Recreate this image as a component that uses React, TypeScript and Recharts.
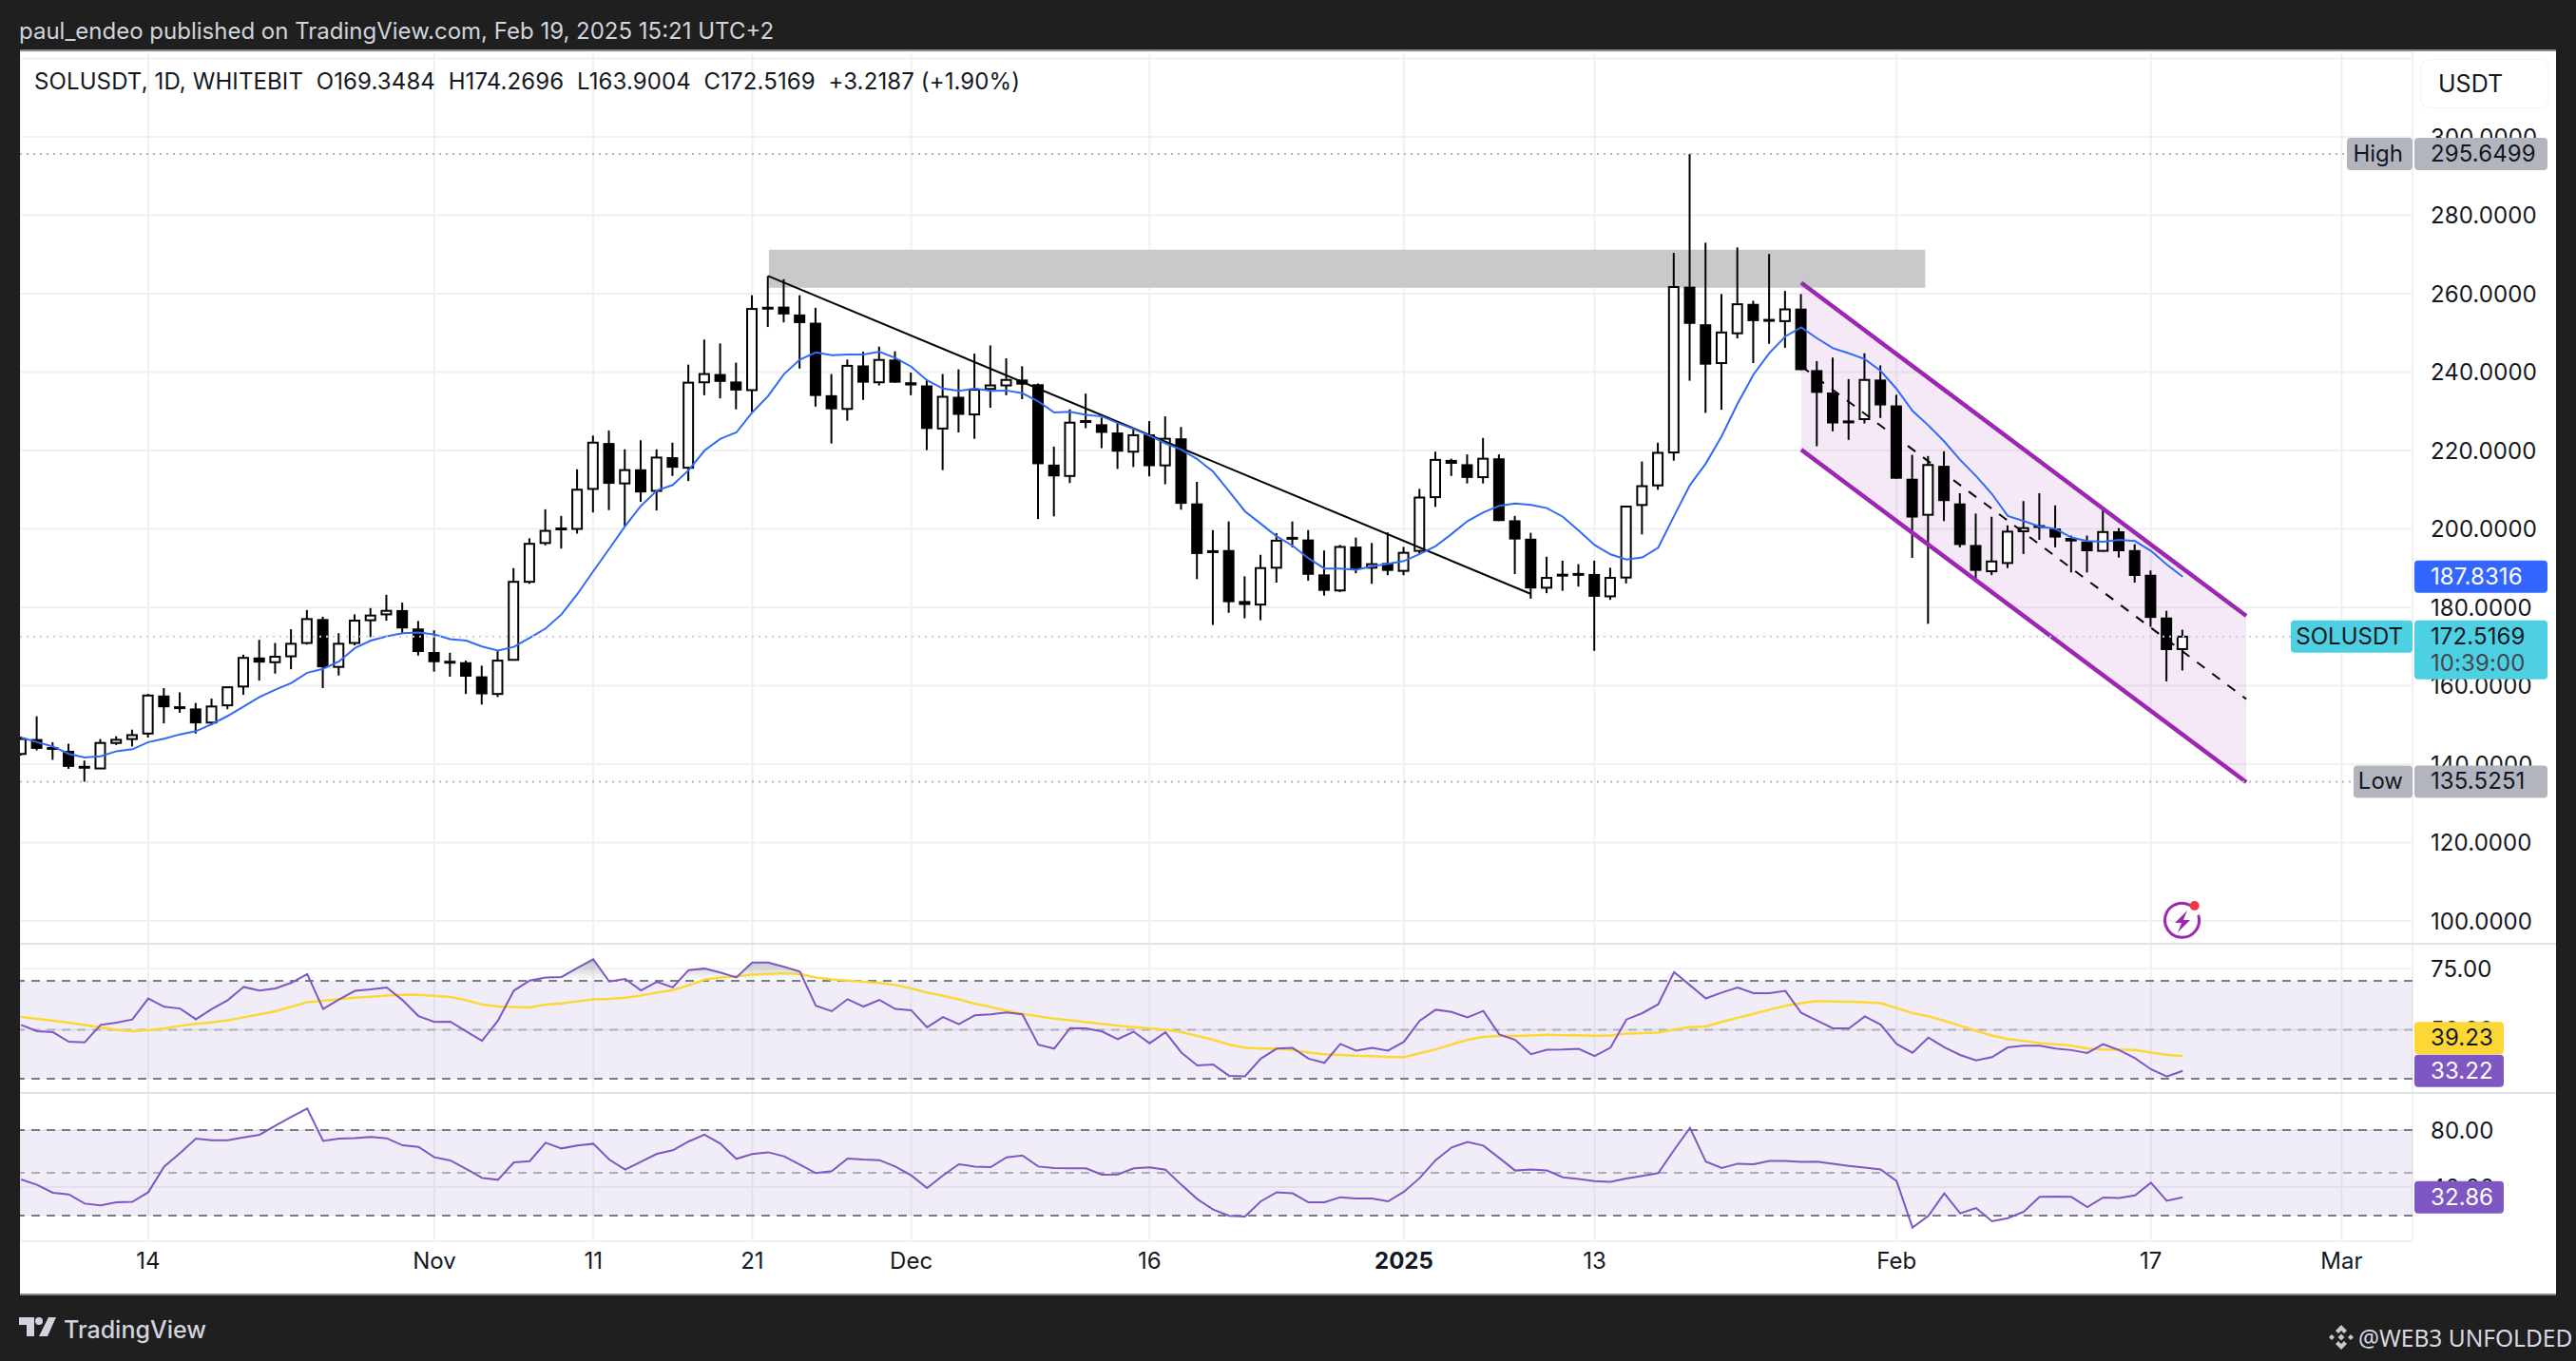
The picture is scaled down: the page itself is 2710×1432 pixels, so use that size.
import {
  Area,
  Bar,
  CartesianGrid,
  ComposedChart,
  Line,
  ReferenceArea,
  ReferenceLine,
  XAxis,
  YAxis,
} from "recharts";

const FONT = "Inter, sans-serif";
const firstDay = -8; // 6 Oct, day 0 is 14 Oct

const opens = [
  142.6, 146.4, 144.1, 143.4, 139.3, 138.9, 145.4, 146.4, 147.8, 157.5,
  154.7, 154.2, 150.6, 155, 159.8, 167.2, 166, 167.5, 170.9, 177,
  164.8, 170.9, 176.7, 178.2, 179.3, 174.6, 168.6, 166.1, 166, 162.4,
  157.9, 166.6, 186.5, 196.4, 199.9, 200, 210.2, 221.9, 211.6, 215.2,
  209.7, 218.3, 215.6, 237.4, 239.5, 237.6, 235.4, 256.4, 256.7, 254.7,
  252.6, 234.1, 230.6, 241.7, 237.4, 243.2, 237.4, 236.6, 225.6, 233.7,
  229.2, 235.7, 236.6, 238.1, 236.9, 216.4, 213.5, 227.5, 226.7, 224.6,
  219.7, 224.1, 216.2, 223.1, 206.5, 194.3, 194.6, 181.6, 180.7, 190.1,
  197.7, 197.3, 188.4, 184.3, 195.5, 190.1, 191.3, 189.3, 194.4, 208.1,
  217.6, 216.5, 213.2, 218, 202.2, 197.5, 185, 188.3, 188.5, 188.5,
  182.8, 187.6, 206.1, 211.1, 219.5, 261.8, 252.2, 242.3, 249.9, 257.4,
  253.3, 253, 256.2, 240.5, 234.8, 227.4, 228, 238.1, 231.5, 212.8,
  203.6, 216.1, 206.5, 195.9, 189.2, 191.3, 199.4, 200.8, 200.1, 197.7,
  196.8, 194.4, 199.4, 194.6, 188.3, 177.4, 169.3484,
];
const highs = [
  147, 152.2, 145.6, 145.2, 140.9, 146.4, 147.1, 148.8, 157.9, 159.4,
  158.3, 155.6, 156.7, 159.6, 167.9, 171.7, 170.9, 174.4, 179.3, 177.6,
  173.4, 178.2, 179.8, 183.2, 181.2, 176.5, 174.1, 168.4, 166.4, 165.1,
  169.1, 190, 197.6, 205, 203.3, 215.2, 223.8, 225.1, 220.3, 222.6,
  220.3, 222, 241.9, 248.3, 247.3, 242.4, 259.6, 264.5, 263.7, 259.6,
  256.4, 239.5, 243.2, 245.2, 246.5, 245.3, 239.9, 238.1, 239.5, 240.7,
  244.7, 246.8, 243.5, 241.5, 237.1, 221, 230.5, 234.5, 228.4, 227,
  225.5, 227.5, 228.7, 226, 212, 199.7, 201.9, 187.9, 193.4, 198.9,
  201.9, 199.7, 194.5, 195.9, 197.8, 196.4, 199.1, 195.4, 210.2, 219.7,
  217.9, 219, 223.2, 219, 203.3, 199, 192.9, 191.9, 191, 191.9,
  190.1, 205.9, 217.2, 222, 270.4, 295.65, 273, 259.9, 271.8, 258.2,
  270.1, 260.7, 259.9, 242.8, 243.7, 238.2, 244.8, 241.7, 234.2, 218.9,
  218.6, 219.8, 209.1, 203.9, 203.1, 200.9, 207.1, 209.1, 206, 198.3,
  198.3, 205.3, 200.2, 196.1, 189.4, 179.1, 174.27,
];
const lows = [
  142.2, 143.5, 141.1, 138.8, 135.53, 138.9, 144.9, 144.5, 146.8, 150.4,
  153.1, 147.8, 149.9, 154, 157.7, 161.3, 163.1, 164.2, 170.5, 159.4,
  162.6, 170.3, 172.4, 176.6, 173.2, 167.7, 163.6, 162.3, 157.9, 155.2,
  157.1, 166.6, 186, 195.8, 195, 198.8, 204.2, 204.8, 200.7, 206.9,
  204.7, 213.5, 212.2, 234.1, 233.3, 230.5, 229.8, 251.5, 252.7, 240.9,
  231.2, 221.8, 227.6, 232.9, 236.6, 237.3, 234.1, 220.1, 215, 224.6,
  223, 230.9, 234.1, 233.1, 202.5, 203.2, 211.7, 225.7, 220.6, 215.3,
  215.8, 213.4, 211.4, 204.9, 187.2, 175.5, 178.6, 177.2, 176.7, 186.3,
  195.3, 186.8, 183, 183.9, 188.7, 186, 188.2, 188.2, 193.6, 205.6,
  213.5, 211.6, 211.6, 202, 188.5, 182.2, 183.6, 184.2, 185.3, 168.9,
  181.9, 186.1, 198.6, 210, 217.4, 237.8, 229.6, 230.4, 248.6, 242.3,
  247.2, 246.2, 240.5, 221.1, 224.9, 222.7, 226.9, 228.3, 212.8, 192.6,
  175.8, 202, 195.3, 187.4, 188.2, 190, 193.6, 197.2, 195.3, 188.9,
  188.9, 194.2, 192.7, 186.3, 175, 161.1, 163.9,
];
const closes = [
  146.4, 143.9, 143.9, 139.3, 139.1, 145.4, 146.2, 147.4, 157.5, 154.5,
  154.1, 150.4, 154.7, 159.6, 167.1, 165.9, 167.4, 170.7, 177, 164.7,
  170.7, 176.6, 177.9, 179.1, 174.6, 168.6, 166, 165.9, 162.3, 157.8,
  166.4, 186.5, 196.2, 199.5, 200.1, 210, 222, 211.5, 215, 209.3,
  218.2, 215.6, 237.3, 239.5, 237.5, 235.3, 256.1, 256.2, 254.7, 252.5,
  233.9, 230.5, 241.6, 237.3, 243.1, 237.3, 236.6, 225.5, 233.7, 229.1,
  235.5, 236.6, 238, 236.8, 216.5, 213.4, 227.1, 227.3, 224.5, 219.7,
  223.9, 216, 223, 206.4, 193.6, 194.1, 181.3, 180.6, 190, 197,
  197.5, 188.3, 184.2, 195.4, 189.7, 191, 189.3, 193.9, 208, 217.6,
  216.6, 213, 217.9, 202, 197.3, 184.8, 187.5, 188.1, 188.3, 182.7,
  187.5, 205.7, 210.9, 219.4, 261.7, 252.3, 241.9, 250.1, 257.3, 253,
  253.1, 256, 240.5, 234.7, 226.9, 227.2, 238, 231.5, 212.8, 202.9,
  216.3, 207.1, 195.9, 189.3, 191.7, 199.3, 200.2, 200.4, 197.8, 196.8,
  194.3, 199.2, 194.3, 188, 177.3, 169.1, 172.5169,
];
const maValues = [
  146.8, 145.6, 144.5, 142.6, 141.7, 142, 143.3, 143.8, 145.6, 146.5,
  147.6, 148.4, 150.2, 152.3, 154.7, 157.1, 159, 160.7, 163.3, 164.3,
  166.2, 169.6, 171.5, 172.6, 173.4, 173.6, 173.1, 171.9, 171.5, 170,
  169, 169.9, 172.2, 174.6, 178.2, 183.4, 189.2, 194.9, 200.7, 205.9,
  209.8, 211.2, 215, 220, 223, 224.6, 229.7, 233.9, 239.5, 243.2,
  245, 244.3, 244.5, 244.5, 245.2, 243.6, 241.4, 237.9, 235.8, 235.2,
  235.8, 235.2, 235.3, 234.6, 232.5, 229.7, 229.9, 229.1, 228.7, 227,
  225.5, 223.8, 221.8, 220.2, 217.8, 214.6, 209.6, 204.5, 201.3, 198.1,
  195.7, 192.5, 189.9, 189.9, 189.6, 190.5, 191.1, 191.8, 193.6, 195.6,
  198.7, 202, 204.2, 205.9, 206.5, 206.1, 205.3, 203.1, 199.6, 195.9,
  193.5, 192.2, 192.7, 195.2, 203.3, 211.2, 216.7, 223.7, 232, 239.4,
  244.9, 249.1, 251.4, 248.6, 246.1, 244.8, 243.3, 240.3, 235.7, 230.1,
  226.4, 222.3, 217.6, 213.5, 208.9, 203.3, 202, 200.6, 200, 197.8,
  196.9, 196.7, 197.2, 196.9, 194.4, 190.9, 187.83,
];
const rsiValues = [
  52, 49.4, 49, 45.1, 44.9, 52, 52.9, 54.2, 62.8, 59.4,
  58.7, 54.3, 58.5, 62.1, 67.5, 66, 66.9, 69.2, 72.8, 58.5,
  62.4, 65.9, 66.5, 67.3, 62.1, 55.6, 53.2, 53.3, 49.4, 45.5,
  53.7, 66, 70.1, 71.4, 71.6, 75.3, 78.8, 69.7, 70.8, 66.1,
  69.6, 67.3, 74.4, 75, 73.4, 71.4, 77.5, 77.5, 75.7, 73.8,
  59.8, 57.6, 62.5, 59.5, 62.2, 58.5, 58, 51, 55.2, 52.3,
  55.9, 56.3, 57.1, 56.3, 43.9, 42.3, 50.7, 50.6, 49.3, 46.2,
  49.2, 44.5, 49, 40.7, 35.4, 35.8, 31.2, 31, 38.2, 42.3,
  42.6, 38.2, 36.5, 44.2, 41.5, 42.6, 41.5, 45.1, 53.7, 58.2,
  57.3, 55.1, 57.7, 48.1, 45.9, 40, 41.8, 41.9, 42.2, 39.3,
  42.7, 54.2, 56.8, 60.4, 73.6, 68.2, 62.8, 65.2, 67.3, 65,
  65, 65.9, 56.9, 53.7, 50.6, 50.6, 55.5, 52.1, 44.2, 40.6,
  46.8, 42.9, 39.7, 37.5, 38.8, 42.8, 43.5, 43.5, 42.3, 41.7,
  40.5, 44.1, 41.7, 38.4, 33.9, 30.9, 33.22,
];
const rsiMaValues = [
  55.2, 54.5, 53.7, 52.9, 51.9, 51, 50, 49.4, 49.8, 50.6,
  51.6, 52.4, 53, 53.9, 55.1, 56.3, 57.6, 59.4, 61.3, 61.8,
  62.5, 63.1, 63.5, 64, 64.3, 64.3, 63.9, 63.4, 62.1, 60.3,
  59.5, 59.3, 59.1, 60.3, 60.8, 61.6, 62.4, 62.6, 63.1, 64,
  65.2, 66.2, 68.2, 70.5, 71.4, 71.8, 72.5, 72.8, 73.1, 72.8,
  71.4, 70.6, 70.1, 69.6, 69.1, 68.3, 66.9, 65.2, 63.9, 62.4,
  60.7, 59.3, 57.8, 56.5, 55.5, 54.6, 53.9, 53.1, 52.4, 51.7,
  51.1, 50.6, 50, 49, 47.5, 45.9, 44, 42.7, 42.3, 42.3,
  41.7, 40.7, 40, 39.7, 39.4, 39.2, 38.8, 38.8, 40.4, 42,
  44, 45.9, 47.1, 47.5, 47.5, 47.7, 48, 47.8, 47.8, 47.6,
  47.7, 48.4, 48.6, 48.8, 50.1, 51.1, 51.4, 53.2, 54.9, 56.5,
  58.2, 59.8, 60.9, 61.7, 61.6, 61.5, 61.3, 60.9, 58.9, 56.8,
  55.5, 53.7, 51.7, 49.6, 47.7, 46.2, 45.4, 44.6, 44.1, 43.5,
  42.3, 41.9, 41.8, 41.7, 40.7, 39.8, 39.23,
];
const mfiValues = [
  45.3, 41.6, 36, 34.9, 28.4, 27.1, 29.3, 29.6, 36.4, 54.4,
  63.8, 74, 72.9, 72.9, 74.9, 76.7, 83.1, 89.3, 95.1, 72.4,
  74, 74.4, 75.1, 74.2, 69.3, 68.2, 60.9, 58.7, 52.7, 46.4,
  45.1, 57.3, 58.2, 71.1, 67.1, 69.1, 70.4, 59.3, 52.2, 57.8,
  63.3, 65.8, 72, 76.7, 70.4, 59.8, 63.1, 64.4, 61.6, 55.8,
  49.8, 51.1, 60, 59.3, 58.9, 54.4, 48.2, 39.3, 48.2, 56,
  54.4, 54, 60.9, 62.2, 54.4, 53.3, 53.1, 53.1, 48.7, 48.9,
  53.1, 53.8, 52.2, 41.6, 31.6, 24.2, 19.8, 19.3, 30, 36.4,
  35.6, 29.3, 29.3, 32.9, 32, 32, 30, 36.7, 46.4, 58.9,
  67.8, 71.6, 69.1, 60.4, 51.6, 52.4, 51.6, 46.9, 45.6, 44.2,
  43.6, 46, 47.8, 49.8, 66, 81.6, 57.8, 53.3, 56.4, 56,
  58.4, 58.4, 57.6, 57.8, 56.4, 54.9, 53.6, 52.4, 44.2, 11.6,
  19.8, 35.6, 21.6, 25.3, 16, 18.2, 22.7, 33.1, 33.3, 33.1,
  26, 32.7, 32.4, 34.2, 43.1, 30.4, 32.86,
];

const dayTicks = [0, 18, 28, 38, 48, 63, 79, 91, 110, 126, 138];
const dayLabels = ["14", "Nov", "11", "21", "Dec", "16", "2025", "13", "Feb", "17", "Mar"];
const priceTicks = [100, 120, 140, 160, 180, 200, 220, 240, 260, 280, 300, 320];
const rsiTicks = [50, 75];
const mfiTicks = [40, 80];

const channelDays = [104, 132];
const channelTop = [262.8, 177.8];
const channelBottom = [220.2, 135.4];
const channelMiddle = [241.5, 156.6];

const trendDays = [39, 87];
const trendPrices = [264.5, 183.4];

const priceRows: any[] = opens.map((o, i) => {
  const day = firstDay + i;
  const channelAt = channelDays.indexOf(day);
  return {
    day,
    o,
    c: closes[i],
    hi: highs[i],
    lo: lows[i],
    hl: [lows[i], highs[i]],
    ma: maValues[i],
    channel: channelAt >= 0 ? [channelBottom[channelAt], channelTop[channelAt]] : undefined,
  };
});
priceRows.push({ day: channelDays[1], channel: [channelBottom[1], channelTop[1]] });

const rsiRows = rsiValues.map((rsi, i) => ({
  day: firstDay + i,
  rsi,
  rsiMa: rsiMaValues[i],
  over: [70, Math.max(70, rsi)],
}));
const mfiRows = mfiValues.map((mfi, i) => ({ day: firstDay + i, mfi }));

const xDomain = [-8.074, 142.46];
const priceDomain = [94.18, 321.82];
const rsiDomain = [24.17, 85.15];
const mfiDomain = [2, 106];
const gridColor = "#f0f0f3";
const noMargin = { top: 0, right: 0, bottom: 0, left: 0 };

function Candle(props: any) {
  const { x, y, width, height, payload } = props;
  if (payload.o == null || !height) return null;
  const { o, c, hi, lo } = payload;
  const toY = (v: number) => y + ((hi - v) / (hi - lo)) * height;
  const top = toY(Math.max(o, c));
  const bottom = toY(Math.min(o, c));
  const mid = x + width / 2;
  const up = c >= o;
  const flat = bottom - top < 3;
  return (
    <g>
      <rect x={mid - 1} y={y} width={2} height={height} fill="#000" />
      {flat ? (
        <rect x={x} y={(top + bottom) / 2 - 1.5} width={width} height={3} fill="#000" />
      ) : up ? (
        <rect x={x + 1} y={top} width={width - 2} height={bottom - top} fill="#fff" stroke="#000" strokeWidth={2} />
      ) : (
        <rect x={x} y={top} width={width} height={bottom - top} fill="#000" />
      )}
    </g>
  );
}

// label of a horizontal line, drawn in the price scale
function badge(opts: {
  text: string;
  fill: string;
  color?: string;
  left: number;
  width: number;
  height?: number;
  dy?: number;
  sub?: string;
  title?: string;
  titleLeft?: number;
}) {
  const { text, fill, color = "#131722", left, width, height = 34, dy = 0, sub, title, titleLeft = 0 } = opts;
  return ({ viewBox }: any) => {
    const y = viewBox.y - 17 + dy;
    const plotRight = viewBox.x + viewBox.width;
    const rx = plotRight + left;
    return (
      <g fontFamily={FONT} fontSize={24}>
        {title && (
          <g>
            <rect x={plotRight - titleLeft} y={y} width={titleLeft} height={34} rx={4} fill={fill} />
            <text x={plotRight - 10} y={y + 25} textAnchor="end" fill={color}>
              {title}
            </text>
          </g>
        )}
        <rect x={rx} y={y} width={width} height={height} rx={4} fill={fill} />
        <text x={plotRight + 19} y={y + 25} fill={color} letterSpacing={0.1}>
          {text}
        </text>
        {sub && (
          <text x={plotRight + 19} y={y + 53} fill="#434651" letterSpacing={0.1}>
            {sub}
          </text>
        )}
      </g>
    );
  };
}

const axisTick = { fill: "#131722", fontSize: 24, fontFamily: FONT, letterSpacing: 0.1 };

function TimeTick({ x, y, payload }: any) {
  const label = dayLabels[dayTicks.indexOf(payload.value)];
  return (
    <text
      x={x}
      y={y + 21}
      textAnchor="middle"
      fontFamily={FONT}
      fontSize={24}
      fontWeight={label === "2025" ? 700 : 400}
      fill="#131722"
    >
      {label}
    </text>
  );
}

function PriceChart() {
  return (
    <ComposedChart width={2668} height={939} data={priceRows} margin={noMargin}>
      <CartesianGrid stroke={gridColor} strokeWidth={2} />
      <XAxis dataKey="day" type="number" domain={xDomain} ticks={dayTicks} allowDataOverflow hide />
      <YAxis
        orientation="right"
        width={151}
        domain={priceDomain}
        ticks={priceTicks}
        interval={0}
        allowDataOverflow
        axisLine={false}
        tickLine={false}
        tickMargin={13}
        tick={axisTick}
        tickFormatter={(v: number) => (v === 320 ? "" : v.toFixed(4))}
      />
      <ReferenceArea x1={39.05} x2={111.8} y1={261.5} y2={271.2} fill="#c9c9c9" fillOpacity={1} stroke="none" />
      <Area
        dataKey="channel"
        type="linear"
        connectNulls
        stroke="none"
        fill="#9c27b0"
        fillOpacity={0.1}
        dot={false}
        activeDot={false}
        isAnimationActive={false}
      />
      <ReferenceLine
        segment={[
          { x: trendDays[0], y: trendPrices[0] },
          { x: trendDays[1], y: trendPrices[1] },
        ]}
        stroke="#000"
        strokeWidth={2}
      />
      <ReferenceLine
        segment={[
          { x: channelDays[0], y: channelMiddle[0] },
          { x: channelDays[1], y: channelMiddle[1] },
        ]}
        stroke="#000"
        strokeWidth={2}
        strokeDasharray="10 10"
      />
      <ReferenceLine
        segment={[
          { x: channelDays[0], y: channelTop[0] },
          { x: channelDays[1], y: channelTop[1] },
        ]}
        stroke="#9c27b0"
        strokeWidth={4.5}
      />
      <ReferenceLine
        segment={[
          { x: channelDays[0], y: channelBottom[0] },
          { x: channelDays[1], y: channelBottom[1] },
        ]}
        stroke="#9c27b0"
        strokeWidth={4.5}
      />
      <Line
        dataKey="ma"
        type="linear"
        stroke="#2f6bf5"
        strokeWidth={2}
        dot={false}
        activeDot={false}
        isAnimationActive={false}
      />
      <Bar dataKey="hl" barSize={12} shape={Candle} isAnimationActive={false} />
    </ComposedChart>
  );
}

// second chart on top of a pane, so the labels cover the axis texts
function BadgeLayer({ height, domain, bottom = 0, children }: any) {
  return (
    <ComposedChart width={2668} height={height} margin={{ top: 0, right: 151, bottom, left: 0 }}>
      <XAxis dataKey="day" type="number" domain={xDomain} allowDataOverflow hide />
      <YAxis domain={domain} allowDataOverflow hide />
      {children}
    </ComposedChart>
  );
}

function PriceBadges() {
  return (
    <BadgeLayer height={939} domain={priceDomain}>
      <ReferenceLine
        y={295.6499}
        stroke="#b2b5be"
        strokeWidth={2}
        strokeDasharray="2 5"
        label={badge({ text: "295.6499", fill: "#b2b5be", left: 2, width: 140, title: "High", titleLeft: 69 })}
      />
      <ReferenceLine
        y={135.5251}
        stroke="#b2b5be"
        strokeWidth={2}
        strokeDasharray="2 5"
        label={badge({ text: "135.5251", fill: "#b2b5be", left: 2, width: 140, title: "Low", titleLeft: 62 })}
      />
      <ReferenceLine
        y={172.5169}
        stroke="#c9cbe0"
        strokeWidth={2}
        strokeDasharray="2 5"
        label={badge({
          text: "172.5169",
          sub: "10:39:00",
          fill: "#4dd0e1",
          left: 2,
          width: 140,
          height: 62,
          title: "SOLUSDT",
          titleLeft: 128,
        })}
      />
      <ReferenceLine
        y={187.8316}
        stroke="none"
        label={badge({ text: "187.8316", fill: "#3366ff", color: "#ffffff", left: 2, width: 140 })}
      />
    </BadgeLayer>
  );
}

function RsiChart() {
  return (
    <ComposedChart width={2668} height={157} data={rsiRows} margin={noMargin}>
      <defs>
        <linearGradient id="overFill" x1="0" y1="0" x2="0" y2="1">
          <stop offset="0%" stopColor="#9598a1" stopOpacity={0.6} />
          <stop offset="100%" stopColor="#9598a1" stopOpacity={0} />
        </linearGradient>
      </defs>
      <CartesianGrid stroke={gridColor} strokeWidth={2} />
      <XAxis dataKey="day" type="number" domain={xDomain} ticks={dayTicks} allowDataOverflow hide />
      <YAxis
        orientation="right"
        width={151}
        domain={rsiDomain}
        ticks={rsiTicks}
        interval={0}
        allowDataOverflow
        axisLine={false}
        tickLine={false}
        tickMargin={13}
        tick={axisTick}
        tickFormatter={(v: number) => v.toFixed(2)}
      />
      <ReferenceArea y1={30} y2={70} fill="#7e57c2" fillOpacity={0.11} stroke="none" />
      <ReferenceLine y={70} stroke="#787b86" strokeWidth={2} strokeDasharray="9 7" />
      <ReferenceLine y={50} stroke="#b0b1b8" strokeWidth={2} strokeDasharray="9 7" />
      <ReferenceLine y={30} stroke="#787b86" strokeWidth={2} strokeDasharray="9 7" />
      <Area
        dataKey="over"
        type="linear"
        stroke="none"
        fill="url(#overFill)"
        fillOpacity={1}
        dot={false}
        activeDot={false}
        isAnimationActive={false}
      />
      <Line
        dataKey="rsiMa"
        type="linear"
        stroke="#fdd835"
        strokeWidth={2.5}
        dot={false}
        activeDot={false}
        isAnimationActive={false}
      />
      <Line
        dataKey="rsi"
        type="linear"
        stroke="#7e57c2"
        strokeWidth={2}
        dot={false}
        activeDot={false}
        isAnimationActive={false}
      />
    </ComposedChart>
  );
}

function RsiBadges() {
  return (
    <BadgeLayer height={157} domain={rsiDomain}>
      <ReferenceLine
        y={39.23}
        stroke="none"
        label={badge({ text: "39.23", fill: "#fdd835", left: 2, width: 94, dy: -19 })}
      />
      <ReferenceLine
        y={33.22}
        stroke="none"
        label={badge({ text: "33.22", fill: "#7e57c2", color: "#ffffff", left: 2, width: 94 })}
      />
    </BadgeLayer>
  );
}

function MfiChart() {
  return (
    <ComposedChart width={2668} height={211} data={mfiRows} margin={noMargin}>
      <CartesianGrid stroke={gridColor} strokeWidth={2} />
      <XAxis
        dataKey="day"
        type="number"
        domain={xDomain}
        ticks={dayTicks}
        interval={0}
        allowDataOverflow
        height={55}
        axisLine={false}
        tickLine={false}
        tick={TimeTick}
      />
      <YAxis
        orientation="right"
        width={151}
        domain={mfiDomain}
        ticks={mfiTicks}
        interval={0}
        allowDataOverflow
        axisLine={false}
        tickLine={false}
        tickMargin={13}
        tick={axisTick}
        tickFormatter={(v: number) => v.toFixed(2)}
      />
      <ReferenceArea y1={20} y2={80} fill="#7e57c2" fillOpacity={0.11} stroke="none" />
      <ReferenceLine y={80} stroke="#787b86" strokeWidth={2} strokeDasharray="9 7" />
      <ReferenceLine y={50} stroke="#b0b1b8" strokeWidth={2} strokeDasharray="9 7" />
      <ReferenceLine y={20} stroke="#787b86" strokeWidth={2} strokeDasharray="9 7" />
      <Line
        dataKey="mfi"
        type="linear"
        stroke="#7e57c2"
        strokeWidth={2}
        dot={false}
        activeDot={false}
        isAnimationActive={false}
      />
    </ComposedChart>
  );
}

function MfiBadges() {
  return (
    <BadgeLayer height={211} domain={mfiDomain} bottom={55}>
      <ReferenceLine
        y={32.86}
        stroke="none"
        label={badge({ text: "32.86", fill: "#7e57c2", color: "#ffffff", left: 2, width: 94 })}
      />
    </BadgeLayer>
  );
}

const pane = (top: number): React.CSSProperties => ({ position: "absolute", left: 0, top: top - 54 });
const separator = (top: number): React.CSSProperties => ({
  position: "absolute",
  left: 0,
  top: top - 55,
  width: 2668,
  height: 2,
  background: "#e0e3eb",
});

export default function App() {
  return (
    <div style={{ position: "absolute", left: 0, top: 0, width: 2710, height: 1432, background: "#1f1f1f", fontFamily: FONT, overflow: "hidden" }}>
      <div style={{ position: "absolute", left: 20, top: 19, fontSize: 24, lineHeight: "28px", color: "#d1d4dc", whiteSpace: "pre" }}>
        paul_endeo published on TradingView.com, Feb 19, 2025 15:21 UTC+2
      </div>

      <div style={{ position: "absolute", left: 21, top: 54, width: 2668, height: 1307, background: "#fff", overflow: "hidden", boxShadow: "0 -2px 0 #8a8a8a, 0 2px 0 #8a8a8a" }}>
        <div style={pane(54)}>
          <PriceChart />
        </div>
        <div style={pane(993)}>
          <RsiChart />
        </div>
        <div style={pane(1150)}>
          <MfiChart />
        </div>
        <div style={separator(993)} />
        <div style={separator(1150)} />
        <div style={pane(54)}>
          <PriceBadges />
        </div>
        <div style={pane(993)}>
          <RsiBadges />
        </div>
        <div style={pane(1150)}>
          <MfiBadges />
        </div>

        <div style={{ position: "absolute", left: 15, top: 18, fontSize: 24, lineHeight: "28px", letterSpacing: 0.11, color: "#131722", whiteSpace: "pre" }}>
          {"SOLUSDT, 1D, WHITEBIT  O169.3484  H174.2696  L163.9004  C172.5169  +3.2187 (+1.90%)"}
        </div>
        <div style={{ position: "absolute", left: 2525, top: 8, width: 136, height: 52, boxSizing: "border-box", border: "1px solid #f0f3fa", borderRadius: 10, background: "#fff", fontSize: 25, lineHeight: "50px", paddingLeft: 18, color: "#131722" }}>
          USDT
        </div>
        <svg style={{ position: "absolute", left: 2250, top: 890 }} width={50} height={50} viewBox="0 0 50 50">
          <path d="M 34 9 A 18 18 0 1 0 42 20" fill="none" stroke="#9c27b0" strokeWidth={3} strokeLinecap="round" />
          <path d="M 30 14 L 17 27 L 24 27 L 20 37 L 33 24 L 26 24 Z" fill="#9c27b0" />
          <circle cx={37.7} cy={9} r={5} fill="#f23645" />
        </svg>
      </div>

      <svg style={{ position: "absolute", left: 20, top: 1386 }} width={40} height={21} viewBox="0 0 40 21">
        <path d="M0 0 H16 V20 H8 V8 H0 Z" fill="#d1d4dc" />
        <circle cx={21} cy={4} r={4} fill="#d1d4dc" />
        <path d="M31 0 H39 L30 20 H21 Z" fill="#d1d4dc" />
      </svg>
      <div style={{ position: "absolute", left: 67, top: 1381, fontSize: 25, fontWeight: 500, lineHeight: "36px", color: "#d1d4dc" }}>
        TradingView
      </div>

      <svg style={{ position: "absolute", left: 2449, top: 1393 }} width={28} height={28} viewBox="0 0 28 28">
        <g fill="#c8c8d0">
          <path d="M14 1 L20 7 L17 10 L14 7 L11 10 L8 7 Z" />
          <path d="M14 27 L20 21 L17 18 L14 21 L11 18 L8 21 Z" />
          <path d="M14 10.5 L17.5 14 L14 17.5 L10.5 14 Z" />
          <path d="M4 11 L7 14 L4 17 L1 14 Z" />
          <path d="M24 11 L27 14 L24 17 L21 14 Z" />
        </g>
      </svg>
      <div style={{ position: "absolute", left: 2481, top: 1390, fontFamily: '"Noto Sans", sans-serif', fontSize: 24.5, lineHeight: "36px", color: "#d8d8e0", whiteSpace: "pre" }}>
        @WEB3 UNFOLDED
      </div>
    </div>
  );
}
